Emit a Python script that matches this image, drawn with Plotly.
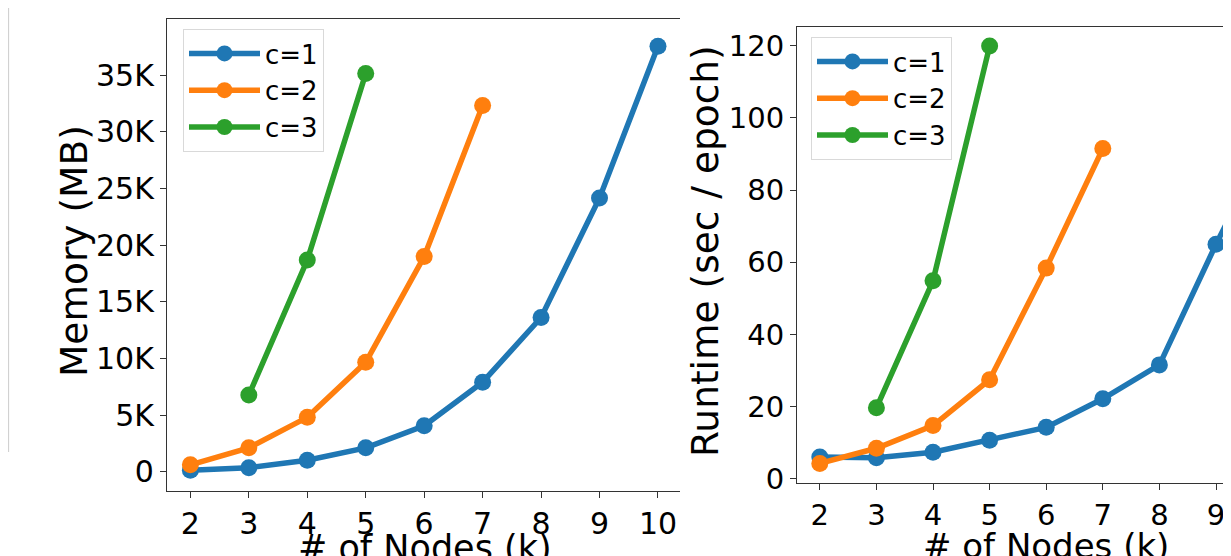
import plotly.graph_objects as go

# ---------------- data ----------------
nodes_c1 = [2, 3, 4, 5, 6, 7, 8, 9, 10]
nodes_c2 = [2, 3, 4, 5, 6, 7]
nodes_c3 = [3, 4, 5]

mem_c1 = [160, 380, 1030, 2130, 4070, 7920, 13620, 24170, 37540]
mem_c2 = [630, 2130, 4820, 9680, 19000, 32310]
mem_c3 = [6790, 18690, 35130]

rt_c1 = [6.1, 5.9, 7.4, 10.7, 14.3, 22.2, 31.6, 65.0, 96.0]
rt_c2 = [4.3, 8.5, 14.8, 27.5, 58.4, 91.5]
rt_c3 = [19.7, 54.9, 119.9]

series_names = ["c=1", "c=2", "c=3"]
colors = ["#1f77b4", "#ff7f0e", "#2ca02c"]

x_ticks = [2, 3, 4, 5, 6, 7, 8, 9, 10]
mem_tickvals = [0, 5000, 10000, 15000, 20000, 25000, 30000, 35000]
mem_ticktext = ["0", "5K", "10K", "15K", "20K", "25K", "30K", "35K"]
rt_tickvals = [0, 20, 40, 60, 80, 100, 120]

x_title = "# of Nodes (k)"
mem_title = "Memory (MB)"
rt_title = "Runtime (sec / epoch)"

# ---------------- figure ----------------
# the page body has an 8px margin, so the figure is sized to the visible area
OFF = 8
VW, VH = 1231, 556
W, H = VW - OFF, VH - OFF
FONT = "DejaVu Sans"


def fx(px):
    return (px - OFF) / W


def fy(py):
    return 1 - (py - OFF) / H


fig = go.Figure()

mem_sets = [(nodes_c1, mem_c1), (nodes_c2, mem_c2), (nodes_c3, mem_c3)]
rt_sets = [(nodes_c1, rt_c1), (nodes_c2, rt_c2), (nodes_c3, rt_c3)]

for (xs, ys), name, col in zip(mem_sets, series_names, colors):
    fig.add_trace(go.Scatter(
        x=xs, y=ys, name=name, mode="lines+markers",
        line=dict(color=col, width=5.5),
        marker=dict(color=col, size=17),
        xaxis="x", yaxis="y", legend="legend", cliponaxis=True,
    ))

for (xs, ys), name, col in zip(rt_sets, series_names, colors):
    fig.add_trace(go.Scatter(
        x=xs, y=ys, name=name, mode="lines+markers",
        line=dict(color=col, width=5.5),
        marker=dict(color=col, size=17),
        xaxis="x2", yaxis="y2", legend="legend2", cliponaxis=True,
    ))

axis_common = dict(
    showgrid=False, zeroline=False, showline=True, linecolor="#333333",
    linewidth=1.2, ticks="outside", ticklen=6, tickwidth=1.2,
    tickcolor="#333333", automargin=False,
)

legend_common = dict(
    xanchor="left", yanchor="top",
    bgcolor="rgba(255,255,255,0.85)", bordercolor="#d9d9d9",
    borderwidth=1, font=dict(size=26, family=FONT, color="black"),
    itemwidth=71, tracegroupgap=0,
)

fig.update_layout(
    width=W, height=H,
    margin=dict(l=0, r=0, t=0, b=0),
    paper_bgcolor="white", plot_bgcolor="white",
    font=dict(family=FONT, color="black"),
    xaxis=dict(domain=[fx(167), fx(680)], range=[1.6, 10.377],
               tickvals=x_ticks, tickfont=dict(size=30), mirror=True,
               anchor="y", **axis_common),
    yaxis=dict(domain=[fy(490.8), fy(18.5)], range=[-1660, 39990],
               tickvals=mem_tickvals, ticktext=mem_ticktext,
               tickfont=dict(size=30), mirror=False, anchor="x",
               **axis_common),
    xaxis2=dict(domain=[fx(797), 1.0], range=[1.597, 9.265],
                tickvals=x_ticks, tickfont=dict(size=29), mirror=True,
                anchor="y2", **axis_common),
    yaxis2=dict(domain=[fy(483.3), fy(27.3)], range=[-1.2, 125.1],
                tickvals=rt_tickvals, tickfont=dict(size=29), mirror=False,
                anchor="x2", **axis_common),
    legend=dict(x=fx(183), y=fy(29), **legend_common),
    legend2=dict(x=fx(811), y=fy(37), **legend_common),
    showlegend=True,
)

annotations = [
    dict(text=mem_title, xref="paper", yref="paper", x=fx(74), y=fy(251),
         xanchor="center", yanchor="middle", textangle=-90, showarrow=False,
         font=dict(size=37.5, family=FONT, color="black")),
    dict(text=rt_title, xref="paper", yref="paper", x=fx(705), y=fy(251),
         xanchor="center", yanchor="middle", textangle=-90, showarrow=False,
         font=dict(size=37.5, family=FONT, color="black")),
    dict(text=x_title, xref="paper", yref="paper", x=fx(425), y=fy(526),
         xanchor="center", yanchor="top", showarrow=False,
         font=dict(size=35, family=FONT, color="black")),
    dict(text=x_title, xref="paper", yref="paper", x=fx(1046), y=fy(524),
         xanchor="center", yanchor="top", showarrow=False,
         font=dict(size=34, family=FONT, color="black")),
]
fig.update_layout(annotations=annotations)

# thin border remnant at the far left edge of the crop
fig.add_shape(type="line", xref="paper", yref="paper", x0=0.0005, x1=0.0005,
              y0=fy(452), y1=1, line=dict(color="#cccccc", width=1))

fig.write_html("out.html")
